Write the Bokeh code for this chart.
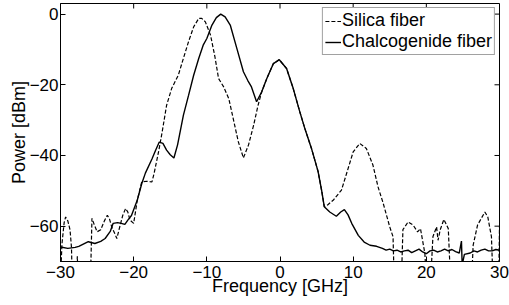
import math
from bokeh.plotting import figure
from bokeh.models import Range1d, FixedTicker, Legend, LegendItem
from bokeh.embed import file_html
from bokeh.resources import INLINE

# Chalcogenide fiber (solid)
freq_chalco = [-30, -29, -28, -27.5, -26.2, -25.3, -24.5, -23.9, -23.2, -22.8, -22.2, -21.7, -21.2,
               -20.8, -20.3, -19.5, -18.9, -18.4, -17.5, -17.0, -16.5, -16.0, -15.5, -15.0, -14.5,
               -14.0, -13.2, -12.5, -11.8, -11.1, -10.5, -10.0, -9.3, -8.7, -8.1, -7.5, -6.8,
               -5.9, -5.0, -4.4, -3.9, -3.2, -2.5, -1.8, -0.9, -0.1, 0.9, 1.8, 2.7, 3.4, 4.3,
               5.2, 5.7, 6.05, 6.8, 7.7, 8.3, 8.8, 9.3, 9.8, 10.7, 11.5, 12.3, 13.2, 14.0, 14.5,
               15.0, 15.5, 16.0, 16.5, 17.0, 17.5, 18.0, 18.5, 19.0, 19.5, 20.0, 20.5, 21.0,
               21.5, 22.0, 22.5, 23.0, 23.5, 24.0, 24.5, 24.8, 24.9, 25.2, 26.0, 26.5, 27.0,
               27.5, 28.0, 28.5, 29.0, 29.5, 30.0]
power_chalco = [-65.9, -66.3, -66.0, -65.7, -64.4, -64.9, -64.3, -63.5, -61.5, -59.2, -59.0, -59.2, -59.5,
                -58.3, -57.0, -52.6, -48.0, -45.0, -41.0, -38.5, -36.2, -36.6, -38.5, -39.8, -40.7,
                -37.0, -28.6, -23.0, -17.3, -12.5, -8.8, -6.9, -3.1, -1.0, 0.0, -0.8, -3.1,
                -9.7, -16.3, -18.8, -20.6, -24.8, -22.0, -18.2, -14.0, -12.9, -15.4, -21.0, -27.6, -32.4, -38.0,
                -44.5, -50.0, -54.5, -56.0, -57.2, -56.0, -55.3, -56.8, -59.2, -62.6, -64.5, -65.4, -65.7, -66.3, -66.8,
                -66.5, -67.0, -66.8, -67.3, -67.0, -66.8, -67.5, -67.0, -66.5, -67.3, -67.8, -67.0, -66.8,
                -67.3, -67.0, -66.5, -67.0, -66.6, -67.2, -67.6, -64.2, -71.0, -68.0, -67.6, -67.0, -67.3,
                -66.8, -66.5, -67.0, -67.0, -66.6, -66.8]

# Silica fiber (dashed)
freq_silica = [-30.0, -29.8, -29.5, -29.3, -29.0, -28.7, -28.5, -28.4, -27.8, -27.7, -27.6, -25.9,
               -25.7, -25.4, -25.0, -24.5, -24.0, -23.6, -23.3, -23.0, -22.6, -22.3, -22.0, -21.5,
               -21.1, -20.8, -20.5, -20.0, -19.5, -18.9, -18.2, -17.5, -17.2, -16.6, -16.1, -15.5,
               -14.8, -13.9, -13.2, -12.5, -11.8, -11.1, -10.7, -10.2, -9.5, -8.9, -8.4, -7.7,
               -7.0, -6.4, -5.7, -5.0, -4.3, -3.6, -3.0, -2.5, -1.8, -0.9, -0.1, 0.9, 1.8, 2.7,
               3.4, 4.3, 5.2, 5.7, 6.05, 6.5, 7.3, 8.4, 9.1, 10.0, 10.9, 11.8, 12.7, 13.4, 14.1,
               15.0, 15.45, 15.6, 16.6, 16.8, 17.5, 18.2, 18.8, 19.2, 19.8, 20.0, 20.6, 20.9,
               21.4, 21.6, 21.9, 22.4, 23.0, 23.3, 26.2, 26.4, 27.0, 28.0, 28.4, 28.9, 29.1,
               29.9, 30.0]
power_silica = [-75.0, -65.0, -59.0, -57.4, -58.5, -61.0, -66.0, -75.0, -75.0, -68.5, -75.0, -75.0,
                -57.8, -59.5, -61.6, -61.0, -58.5, -56.9, -58.0, -60.2, -62.0, -63.5, -61.0, -57.0,
                -55.0, -56.0, -58.3, -59.2, -52.6, -47.5, -47.3, -47.5, -45.0, -39.0, -33.3, -25.8,
                -21.0, -17.3, -12.5, -7.8, -3.6, -1.2, -1.2, -2.2, -5.9, -12.0, -18.2, -20.6,
                -23.9, -29.5, -36.1, -40.7, -37.0, -31.4, -25.8, -22.0, -18.2, -14.0, -12.9, -15.4, -21.0, -27.6,
                -32.4, -38.0, -44.5, -50.0, -54.5, -54.0, -52.6, -49.8, -45.1, -39.0, -36.6, -38.0, -42.7, -48.9, -53.5,
                -60.2, -63.0, -75.0, -75.0, -61.0, -58.8, -59.7, -61.6, -60.7, -67.7, -75.0, -75.0, -63.0,
                -60.2, -64.0, -61.0, -58.1, -60.7, -75.0, -75.0, -65.4, -59.7, -56.0, -57.4, -63.0, -75.0,
                -75.0, -60.0]

x_ticks = [-30, -20, -10, 0, 10, 20, 30]
y_ticks = [-60, -40, -20, 0]
x_min, x_max = -30, 30
y_min, y_max = -70, 3
x_label = "Frequency [GHz]"
y_label = "Power [dBm]"
labels = ["Silica fiber", "Chalcogenide fiber"]

FONT = "Liberation Sans"
TICK_SIZE = "17px"

p = figure(width=509, height=305, x_range=Range1d(x_min, x_max), y_range=Range1d(y_min, y_max),
           output_backend="svg", toolbar_location=None,
           min_border_left=60, min_border_right=10, min_border_top=3, min_border_bottom=44)
p.xgrid.visible = False
p.ygrid.visible = False
p.outline_line_color = "black"
p.outline_line_width = 1
p.outline_line_alpha = 1
p.background_fill_color = "white"
p.border_fill_color = "white"

r_s = p.line(freq_silica, power_silica, line_color="black", line_width=1.2, line_dash="4 2")
r_c = p.line(freq_chalco, power_chalco, line_color="black", line_width=1.4)

# inward ticks on the top and right edges of the box
p.ray(x=x_ticks, y=[y_max] * len(x_ticks), length=5, length_units="screen",
      angle=-math.pi / 2, line_color="black", line_width=1)
p.ray(x=[x_max] * len(y_ticks), y=y_ticks, length=5, length_units="screen",
      angle=math.pi, line_color="black", line_width=1)

xa = p.xaxis[0]
ya = p.yaxis[0]
xa.ticker = FixedTicker(ticks=x_ticks)
ya.ticker = FixedTicker(ticks=y_ticks)
for ax in (xa, ya):
    ax.major_tick_in = 5
    ax.major_tick_out = 0
    ax.minor_tick_line_color = None
    ax.major_tick_line_color = "black"
    ax.axis_line_color = "black"
    ax.major_label_text_font = FONT
    ax.major_label_text_font_size = TICK_SIZE
    ax.major_label_text_color = "black"
    ax.axis_label_text_font = FONT
    ax.axis_label_text_font_size = "18px"
    ax.axis_label_text_font_style = "normal"
    ax.axis_label_text_color = "black"
xa.axis_label = x_label
ya.axis_label = y_label
xa.major_label_standoff = 4
xa.axis_label_standoff = -5
ya.major_label_standoff = 2
ya.axis_label_standoff = -2

legend = Legend(items=[LegendItem(label=labels[0], renderers=[r_s]),
                       LegendItem(label=labels[1], renderers=[r_c])],
                location="top_right")
legend.label_text_font = FONT
legend.label_text_font_size = "18px"
legend.label_text_color = "black"
legend.glyph_width = 16
legend.glyph_height = 18
legend.label_standoff = 1
legend.label_height = 18
legend.padding = 2
legend.spacing = 0
legend.margin = 4
legend.border_line_color = "#444444"
legend.border_line_width = 1
legend.background_fill_alpha = 1
p.add_layout(legend)

open("out.html", "w").write(file_html(p, INLINE))
